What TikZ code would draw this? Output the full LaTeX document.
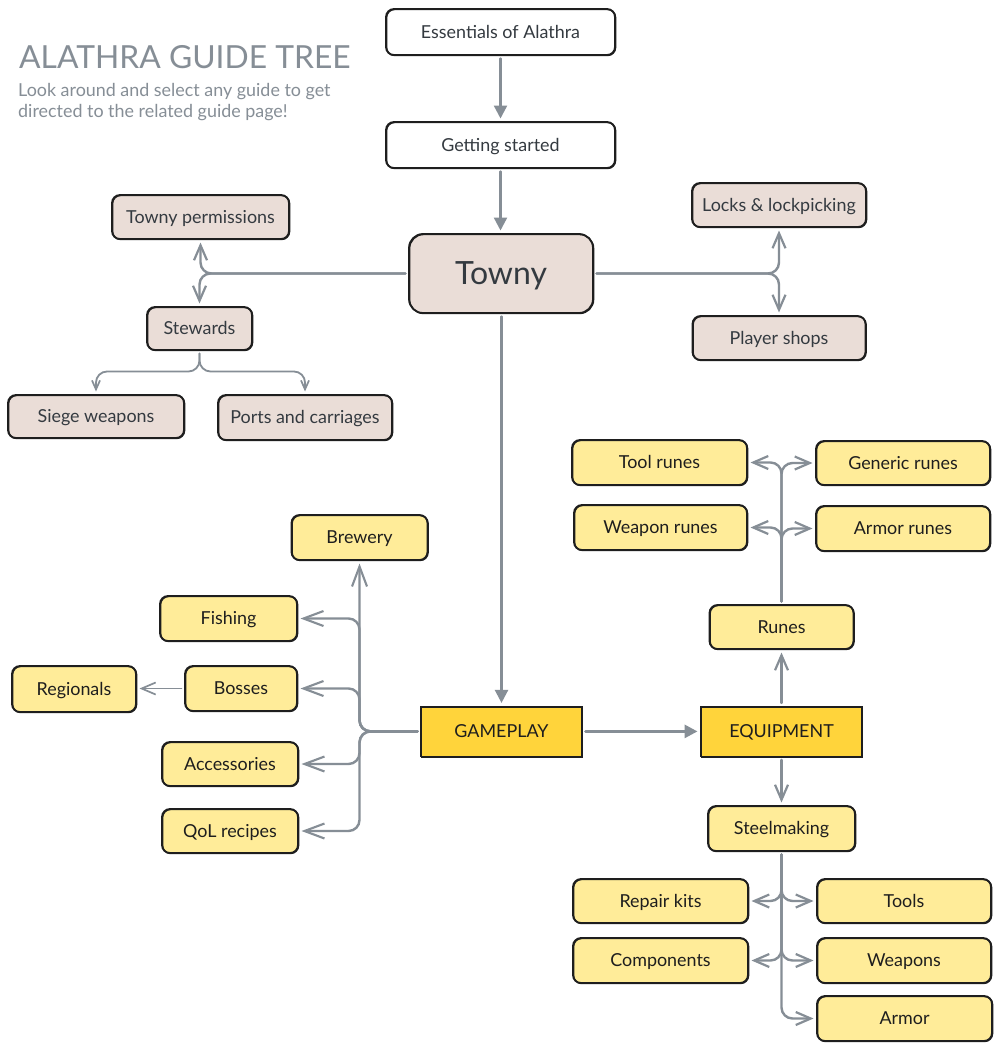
\documentclass[tikz,border=0pt]{standalone}
\usepackage{fontspec}
\setmainfont{Lato}
\usetikzlibrary{arrows.meta}
\definecolor{stroke}{HTML}{1E1E1E}
\definecolor{darktxt}{HTML}{343A40}
\definecolor{graytxt}{HTML}{868E96}
\definecolor{pinkfill}{HTML}{EADDD7}
\definecolor{yellowfill}{HTML}{FFEC99}
\definecolor{goldfill}{HTML}{FFD43B}
\tikzset{
  base/.style={draw=stroke,line width=1.8pt,rounded corners=8pt,inner sep=0pt,outer sep=0pt,align=center,
    text height=14pt,text depth=2pt,font=\fontsize{17.9}{21}\selectfont,
    postaction={draw=stroke,line width=1.4pt,transform canvas={xshift=.6pt,yshift=-.5pt}}},
  plainbox/.style={base,fill=white,text=darktxt},
  pinkbox/.style={base,fill=pinkfill,text=darktxt},
  townybox/.style={base,fill=pinkfill,text=darktxt,rounded corners=14pt,text height=28pt,text depth=6pt,font=\fontsize{32}{38}\selectfont},
  yellowbox/.style={base,fill=yellowfill,text=stroke},
  goldbox/.style={base,fill=goldfill,text=stroke,rounded corners=0pt,line width=1.5pt},
  conn/.style={draw=graytxt,line width=2.4pt,rounded corners=11pt,line cap=round,shorten >=3.5pt,shorten <=3.5pt},
  openarrow/.style={conn,-{Straight Barb[length=15pt,width=13pt,line width=2.2pt]}},
  longarrow/.style={conn,-{Straight Barb[length=20pt,width=15pt,line width=2.1pt]}},
  smallarrow/.style={conn,line width=1.8pt,-{Straight Barb[length=9pt,width=8pt,line width=1.7pt]}},
  solidarrow/.style={conn,-{Triangle[length=13pt,width=13pt]}}
}
\begin{document}
\begin{tikzpicture}[x=1pt,y=-1pt]
\useasboundingbox (0,0) rectangle (1000,1049);
\fill[white] (0,0) rectangle (1000,1049);
% title
\node[anchor=base west,inner sep=0pt,text=graytxt,font=\fontsize{31.8}{38}\selectfont] (title) at (19,68) {ALATHRA GUIDE TREE};
\node[anchor=base west,inner sep=0pt,text=graytxt,font=\fontsize{17.9}{21}\selectfont] (subone) at (18,96) {Look around and select any guide to get};
\node[anchor=base west,inner sep=0pt,text=graytxt,font=\fontsize{17.9}{21}\selectfont] (subtwo) at (18,117) {directed to the related guide page!};
% top
\node[plainbox,minimum width=229pt,minimum height=46pt] (essentials) at (500.5,32) {Essentials of Alathra};
\node[plainbox,minimum width=229pt,minimum height=46pt] (started) at (500.5,145) {Getting started};
\node[townybox,minimum width=184pt,minimum height=79pt] (towny) at (501,273.5) {Towny};
\node[pinkbox,minimum width=177pt,minimum height=44pt] (perm) at (200.5,217) {Towny permissions};
\node[pinkbox,minimum width=105pt,minimum height=43pt] (stewards) at (199.5,328.5) {Stewards};
\node[pinkbox,minimum width=176pt,minimum height=43pt] (siege) at (96,416.5) {Siege weapons};
\node[pinkbox,minimum width=174pt,minimum height=45pt] (ports) at (305,417.5) {Ports and carriages};
\node[pinkbox,minimum width=174pt,minimum height=44pt] (locks) at (779,205) {Locks \& lockpicking};
\node[pinkbox,minimum width=173pt,minimum height=44pt] (shops) at (779,338) {Player shops};
% runes
\node[yellowbox,minimum width=175pt,minimum height=45pt] (toolr) at (659.5,462.5) {Tool runes};
\node[yellowbox,minimum width=174pt,minimum height=44pt] (genericr) at (903,463) {Generic runes};
\node[yellowbox,minimum width=173pt,minimum height=45pt] (weaponr) at (660.5,527.5) {Weapon runes};
\node[yellowbox,minimum width=174pt,minimum height=45pt] (armorr) at (903,528.5) {Armor runes};
\node[yellowbox,minimum width=144pt,minimum height=44pt] (runes) at (781.5,627) {Runes};
% left
\node[yellowbox,minimum width=136pt,minimum height=45pt] (brewery) at (359.5,537.5) {Brewery};
\node[yellowbox,minimum width=137pt,minimum height=45pt] (fishing) at (228.5,618.5) {Fishing};
\node[yellowbox,minimum width=112pt,minimum height=45pt] (bosses) at (241,688.5) {Bosses};
\node[yellowbox,minimum width=124pt,minimum height=46pt] (regionals) at (74,689) {Regionals};
\node[yellowbox,minimum width=136pt,minimum height=44pt] (access) at (230,764) {Accessories};
\node[yellowbox,minimum width=136pt,minimum height=44pt] (qol) at (230,831) {QoL recipes};
\node[goldbox,minimum width=161pt,minimum height=50pt] (gameplay) at (501.5,731.4) {GAMEPLAY};
\node[goldbox,minimum width=161pt,minimum height=50pt] (equipment) at (781.5,731.4) {EQUIPMENT};
% steel
\node[yellowbox,minimum width=147pt,minimum height=45pt] (steel) at (781.5,828.5) {Steelmaking};
\node[yellowbox,minimum width=175pt,minimum height=44pt] (repair) at (660.5,901) {Repair kits};
\node[yellowbox,minimum width=174pt,minimum height=44pt] (tools) at (904,901) {Tools};
\node[yellowbox,minimum width=175pt,minimum height=45pt] (comps) at (660.5,960.5) {Components};
\node[yellowbox,minimum width=174pt,minimum height=45pt] (weapons) at (904,960.5) {Weapons};
\node[yellowbox,minimum width=175pt,minimum height=45pt] (armor) at (904.5,1018.5) {Armor};
% junction
\coordinate (gpjoin) at (359.5,731.4);
% connectors
\draw[solidarrow] (essentials.south) -- (started.north);
\draw[solidarrow] (started.south) -- (towny.north -| started.south);
\draw[solidarrow] (towny.south -| gameplay.north) -- (gameplay.north);
\draw[solidarrow,line width=2.9pt] (gameplay.east) -- (equipment.west);
\draw[openarrow] (towny.west) -| (perm.south);
\draw[openarrow] (towny.west) -| (stewards.north);
\draw[openarrow] (towny.east) -| (locks.south);
\draw[openarrow] (towny.east) -| (shops.north);
\draw[smallarrow] (stewards.south) -- ++(0,21.5) -| (siege.north);
\draw[smallarrow] (stewards.south) -- ++(0,21.5) -| (ports.north);
\draw[openarrow] (runes.north) |- (toolr.east);
\draw[openarrow] (runes.north) |- (genericr.west);
\draw[openarrow] (runes.north) |- (weaponr.east);
\draw[openarrow] (runes.north) |- (armorr.west);
\draw[openarrow] (equipment.north) -- (runes.south);
\draw[openarrow] (equipment.south) -- (steel.north);
\draw[openarrow] (steel.south) |- (repair.east);
\draw[openarrow] (steel.south) |- (tools.west);
\draw[openarrow] (steel.south) |- (comps.east);
\draw[openarrow] (steel.south) |- (weapons.west);
\draw[openarrow] (steel.south) |- (armor.west);
\draw[longarrow] (gameplay.west) -- (gpjoin) -- (brewery.south);
\draw[longarrow] (gameplay.west) -- (gpjoin) |- (fishing.east);
\draw[longarrow] (gameplay.west) -- (gpjoin) |- (bosses.east);
\draw[longarrow] (gameplay.west) -- (gpjoin) |- (access.east);
\draw[longarrow] (gameplay.west) -- (gpjoin) |- (qol.east);
\draw[conn,line width=1.8pt,-{Straight Barb[length=14pt,width=12pt,line width=1.7pt]}] (bosses.west) -- (bosses.west -| regionals.east);
\end{tikzpicture}
\end{document}
